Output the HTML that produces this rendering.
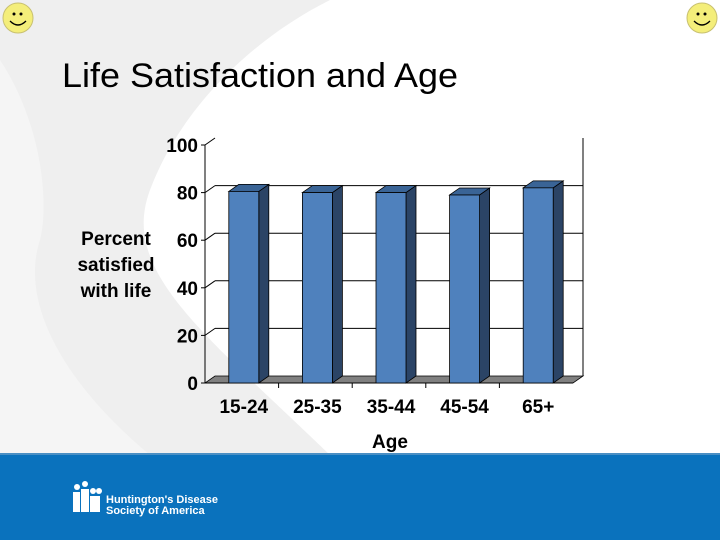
<!DOCTYPE html>
<html><head><meta charset="utf-8"><style>
html,body{margin:0;padding:0;}
body{width:720px;height:540px;overflow:hidden;background:#fff;font-family:"Liberation Sans",sans-serif;position:relative;}
svg{position:absolute;left:0;top:0;}
</style></head><body>
<svg id="s" width="720" height="540">
  <path d="M0 0 L330 0 C250 40 180 110 150 190 C120 270 200 330 330 455 L0 455 Z" fill="#efefef"/>
  <path d="M0 60 C40 120 50 200 40 240 C20 300 60 380 150 455 L0 455 Z" fill="#f5f5f5"/>
  <rect x="0" y="454" width="720" height="86" fill="#0a72bd"/>
  <rect x="0" y="453" width="720" height="2" fill="#4a8fc4"/>
  <g fill="#fff">
    <circle cx="77" cy="487" r="3"/><circle cx="85" cy="484" r="3"/>
    <rect x="73" y="492" width="7" height="20"/><rect x="81" y="489" width="8" height="23"/>
    <circle cx="93" cy="491" r="3"/><circle cx="99" cy="491" r="3"/>
    <rect x="90" y="496" width="10" height="16"/>
  </g>
  <text x="106" y="503" font-size="11" font-weight="bold" fill="#fff">Huntington's Disease</text>
  <text x="106" y="514" font-size="11" font-weight="bold" fill="#fff">Society of America</text>
  <g>
    <circle cx="18" cy="18" r="15" fill="#f4ee7a" stroke="#c8c070" stroke-width="1"/>
    <circle cx="14" cy="14" r="1.5" fill="#000"/><circle cx="21" cy="14" r="1.5" fill="#000"/>
    <path d="M10 21 Q18 29 26 21" stroke="#000" stroke-width="1.3" fill="none"/>
  </g>
  <g>
    <circle cx="702" cy="18" r="15" fill="#f4ee7a" stroke="#c8c070" stroke-width="1"/>
    <circle cx="698" cy="14" r="1.5" fill="#000"/><circle cx="705" cy="14" r="1.5" fill="#000"/>
    <path d="M694 21 Q702 29 710 21" stroke="#000" stroke-width="1.3" fill="none"/>
  </g>
  <text x="62" y="87" font-size="34" textLength="396" lengthAdjust="spacingAndGlyphs" fill="#000">Life Satisfaction and Age</text>
  <g id="chart"></g>
</svg>
<script>
const categories=["15-24","25-35","35-44","45-54","65+"];
const values=[80.5,80,80,79,82];
const yTicks=[0,20,40,60,80,100];
const NS="http://www.w3.org/2000/svg";
const g=document.getElementById('chart');
const X0=205,X1=573,Y0=383,Y100=145,DX=10,DY=-7;
function y(v){return Y0-(v/100)*(Y0-Y100);}
const bw=(X1-X0)/categories.length;
function x(i){return X0+bw*(i+0.5)+2;}
function mk(tag,attrs){const e=document.createElementNS(NS,tag);for(const k in attrs)e.setAttribute(k,attrs[k]);g.appendChild(e);return e;}
yTicks.forEach(t=>{
  if(t===0)return;
  if(t!==100){
    const l=mk('line',{x1:X0+DX,y1:y(t)+DY,x2:X1+DX,y2:y(t)+DY,stroke:'#000','stroke-width':1});
    
    
  }
  const d=mk('line',{x1:X0,y1:y(t),x2:X0+DX,y2:y(t)+DY,stroke:'#000','stroke-width':1});
  
  
});
const rw=mk('line',{x1:X1+DX,y1:y(100)+DY,x2:X1+DX,y2:Y0+DY,stroke:'#000','stroke-width':1});


const fl=mk('polygon',{points:`${X0},${Y0} ${X1},${Y0} ${X1+DX},${Y0+DY} ${X0+DX},${Y0+DY}`,fill:'#808080',stroke:'#000','stroke-width':0.8});


const ax=mk('line',{x1:X0,y1:y(100),x2:X0,y2:Y0,stroke:'#000','stroke-width':1});


const bx=mk('line',{x1:X0,y1:Y0,x2:X1,y2:Y0,stroke:'#000','stroke-width':1});


yTicks.forEach(t=>{
  const tk=mk('line',{x1:X0-4,y1:y(t),x2:X0,y2:y(t),stroke:'#000'});
  
  
  const tx=mk('text',{x:X0-7,y:y(t)+7,'text-anchor':'end','font-size':19,'font-weight':'bold'});
  tx.textContent=t;
  
  
});
for(let i=1;i<categories.length;i++){
  const tk=mk('line',{x1:X0+bw*i,y1:Y0,x2:X0+bw*i,y2:Y0+5,stroke:'#000'});
  
  
}
const W=30;
categories.forEach((c,i)=>{
  const cx=x(i),l=cx-W/2,r=cx+W/2,top=y(values[i]);
  const side=mk('polygon',{points:`${r},${top} ${r+DX},${top+DY} ${r+DX},${Y0+DY} ${r},${Y0}`,fill:'#2b4466',stroke:'#000','stroke-width':0.8});
  
  
  const tp=mk('polygon',{points:`${l},${top} ${l+DX},${top+DY} ${r+DX},${top+DY} ${r},${top}`,fill:'#3a6496',stroke:'#000','stroke-width':0.8});
  
  
  const fr=mk('rect',{x:l,y:top,width:W,height:Y0-top,fill:'#4f81bd',stroke:'#000','stroke-width':0.8});
  
  
  const lb=mk('text',{x:cx,y:413,'text-anchor':'middle','font-size':19,'font-weight':'bold'});
  lb.textContent=c;
  
  
});
const yt=[["Percent",245],["satisfied",271],["with life",297]];
yt.forEach(p=>{
  const t=mk('text',{x:116,y:p[1],'text-anchor':'middle','font-size':19,'font-weight':'bold'});
  t.textContent=p[0];
  
  
});
const xt=mk('text',{x:390,y:448,'text-anchor':'middle','font-size':19,'font-weight':'bold'});
xt.textContent="Age";


</script>
</body></html>
